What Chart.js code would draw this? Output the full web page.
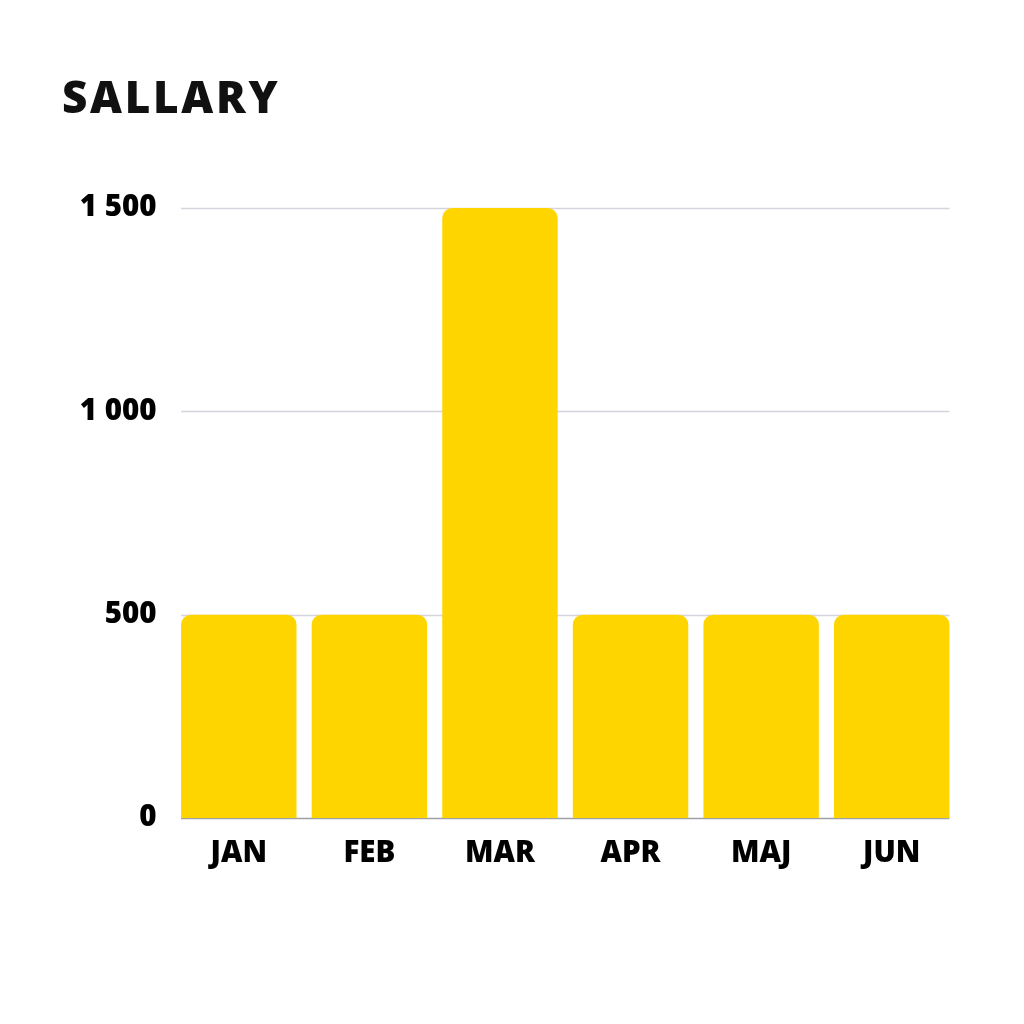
<!DOCTYPE html>
<html>
<head>
<meta charset="utf-8">
<script src="https://cdn.jsdelivr.net/npm/chart.js@4/dist/chart.umd.min.js"></script>
<style>
    html, body { margin: 0; padding: 0; background: #fff; }
    .wrap { position: relative; width: 1024px; height: 1024px; }
    #chart { position: absolute; left: 0; top: 0; }
    .title {
        position: absolute; left: 62px; top: 66px;
        font-family: 'Open Sans', sans-serif; font-weight: 800;
        font-size: 44px; line-height: 60px; letter-spacing: 2.7px; color: #111;
    }
</style>
</head>
<body>
<div class="wrap">
    <canvas id="chart" width="1024" height="1024"></canvas>
    <div class="title">SALLARY</div>
</div>
<script>
    // ===== Данные =====
    const months = ['JAN', 'FEB', 'MAR', 'APR', 'MAJ', 'JUN'];
    const sallary = [500, 500, 1500, 500, 500, 500];
    const yTicks = [0, 500, 1000, 1500];

    const barColor = '#FFD500';
    const tickFont = { family: "'Open Sans', sans-serif", weight: 800, size: 29.5 };

    // Сетка только под столбцами
    const gridUnderBars = {
        id: 'gridUnderBars',
        beforeDatasetsDraw(chart) {
            const ctx = chart.ctx;
            const bars = chart.getDatasetMeta(0).data;
            const x0 = bars[0].x - bars[0].width / 2;
            const x1 = bars[bars.length - 1].x + bars[bars.length - 1].width / 2;
            const y = chart.scales.y;
            ctx.save();
            yTicks.forEach(v => {
                const py = Math.round(y.getPixelForValue(v)) + 0.5;
                ctx.strokeStyle = v === 0 ? '#a0a0a8' : '#d4d4dc';
                ctx.lineWidth = 1.5;
                ctx.beginPath();
                ctx.moveTo(x0, py);
                ctx.lineTo(x1, py);
                ctx.stroke();
            });
            ctx.restore();
        }
    };

    new Chart(document.getElementById('chart'), {
        type: 'bar',
        data: {
            labels: months,
            datasets: [{
                data: sallary,
                backgroundColor: barColor,
                borderRadius: { topLeft: 10, topRight: 10 },
                borderSkipped: 'bottom',
                barPercentage: 0.884,
                categoryPercentage: 1
            }]
        },
        options: {
            responsive: false,
            animation: false,
            layout: { padding: { top: 208, right: 67, bottom: 0, left: 0 } },
            plugins: {
                legend: { display: false },
                tooltip: { enabled: false }
            },
            scales: {
                x: {
                    grid: { display: false, drawTicks: false },
                    border: { display: false },
                    ticks: { color: '#000', font: tickFont, padding: 18 },
                    afterFit(scale) { scale.height = 206; }
                },
                y: {
                    min: 0,
                    max: 1500,
                    afterBuildTicks(scale) { scale.ticks = yTicks.map(v => ({ value: v })); },
                    afterFit(scale) { scale.width = 173.5; },
                    grid: { display: false, drawTicks: false },
                    border: { display: false },
                    ticks: {
                        color: '#000',
                        font: tickFont,
                        padding: 17,
                        callback: v => v >= 1000 ? Math.floor(v / 1000) + ' ' + String(v % 1000).padStart(3, '0') : String(v)
                    }
                }
            }
        },
        plugins: [gridUnderBars]
    });
</script>
</body>
</html>
